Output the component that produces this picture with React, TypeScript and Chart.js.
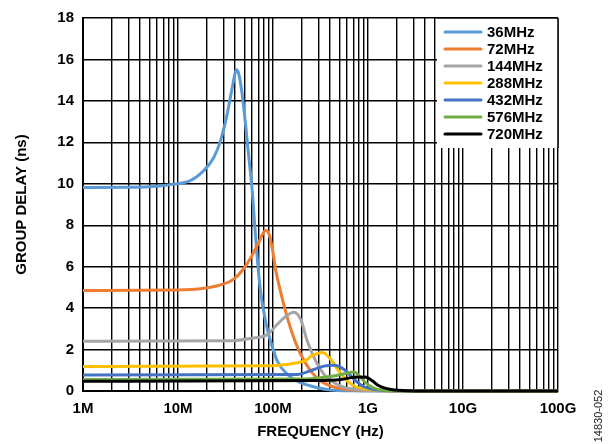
import { useEffect, useRef } from "react";
import { Chart, registerables } from "chart.js";

Chart.register(...registerables);

// ---- Data (frequency in Hz, group delay in ns) ----
const seriesLabels = ["36MHz", "72MHz", "144MHz", "288MHz", "432MHz", "576MHz", "720MHz"];
const seriesColors = ["#5B9BD5", "#ED7D31", "#A5A5A5", "#FFC000", "#4472C4", "#70AD47", "#000000"];

const freq36 = [1e6, 3e6, 6e6, 8.3e6, 13.5e6, 18.6e6, 23.8e6, 28e6, 32.9e6, 37.2e6, 41.3e6, 43.6e6, 47.4e6, 51.4e6, 55.7e6, 60.4e6, 64e6, 68.3e6, 74e6, 83.5e6, 94.4e6, 111e6, 142e6, 196e6, 294e6, 406e6, 700e6, 1.2e9, 1e11];
const gd36 = [9.82, 9.83, 9.88, 9.96, 10.15, 10.63, 11.27, 12.07, 13.35, 14.63, 15.5, 15.3, 14.3, 12.87, 11.27, 9.67, 8.1, 6.4, 4.8, 3.36, 2.4, 1.44, 0.8, 0.4, 0.16, 0.05, 0.01, 0, 0];

const freq72 = [1e6, 10e6, 17.2e6, 28e6, 38.6e6, 49.3e6, 60.4e6, 71e6, 83.5e6, 90.5e6, 98.4e6, 106e6, 120e6, 142e6, 166e6, 196e6, 250e6, 318e6, 406e6, 600e6, 1e9, 2e9, 1e11];
const gd72 = [4.85, 4.87, 4.93, 5.12, 5.4, 5.91, 6.55, 7.19, 7.75, 7.59, 6.87, 5.91, 4.8, 3.52, 2.56, 1.76, 0.96, 0.48, 0.24, 0.07, 0.02, 0, 0];

const freq144 = [1e6, 38.6e6, 62.9e6, 87e6, 111e6, 136e6, 166e6, 196e6, 230e6, 282e6, 344e6, 380e6, 517e6, 700e6, 1.2e9, 2e9, 1e11];
const gd144 = [2.4, 2.43, 2.56, 2.72, 3.22, 3.6, 3.8, 3.44, 2.4, 1.44, 0.8, 0.6, 0.24, 0.08, 0.02, 0, 0];

const freq288 = [1e6, 100e6, 180e6, 230e6, 250e6, 282e6, 332e6, 406e6, 493e6, 609e6, 715e6, 1e9, 2e9, 3e9, 1e11];
const gd288 = [1.18, 1.22, 1.36, 1.52, 1.68, 1.78, 1.86, 1.52, 0.96, 0.48, 0.24, 0.08, 0.01, 0, 0];

const freq432 = [1e6, 180e6, 270e6, 344e6, 436e6, 561e6, 715e6, 877e6, 1.2e9, 2e9, 3e9, 1e11];
const gd432 = [0.77, 0.8, 1.04, 1.2, 1.24, 1.04, 0.56, 0.24, 0.06, 0.01, 0, 0];

const freq576 = [1e6, 200e6, 318e6, 436e6, 561e6, 715e6, 841e6, 990e6, 1.26e9, 2e9, 3e9, 1e11];
const gd576 = [0.55, 0.58, 0.64, 0.72, 0.83, 0.92, 0.64, 0.32, 0.08, 0.01, 0, 0];

const freq720 = [1e6, 300e6, 517e6, 715e6, 930e6, 1.12e9, 1.25e9, 1.45e9, 1.75e9, 2.6e9, 4e9, 1e11];
const gd720 = [0.47, 0.51, 0.56, 0.66, 0.68, 0.48, 0.3, 0.16, 0.07, 0.01, 0, 0];

const seriesFreqs = [freq36, freq72, freq144, freq288, freq432, freq576, freq720];
const seriesDelays = [gd36, gd72, gd144, gd288, gd432, gd576, gd720];

const xTickValues = [1e6, 1e7, 1e8, 1e9, 1e10, 1e11];
const xTickLabels = ["1M", "10M", "100M", "1G", "10G", "100G"];
const yTickMin = 0;
const yTickMax = 18;
const yTickStep = 2;
const sideNote = "14830-052";

const FONT = "'Liberation Sans', Arial, Helvetica, sans-serif";

export default function App() {
  const ref = useRef<HTMLCanvasElement>(null);

  useEffect(() => {
    document.body.style.margin = "0";
    const canvas = ref.current;
    if (!canvas) return;

    const gridValues: number[] = [];
    for (let d = 0; d < xTickValues.length - 1; d++) {
      for (let m = 1; m <= 9; m++) gridValues.push(m * xTickValues[d]);
    }
    gridValues.push(xTickValues[xTickValues.length - 1]);

    const datasets = seriesLabels.map((label, i) => ({
      label,
      data: seriesFreqs[i].map((f, j) => ({ x: f, y: seriesDelays[i][j] })),
      borderColor: seriesColors[i],
      backgroundColor: seriesColors[i],
      borderWidth: 3,
      pointRadius: 0,
      fill: false,
      cubicInterpolationMode: "monotone" as const,
      order: seriesLabels.length - 1 - i,
      clip: 5,
    }));

    const insideLegend = {
      id: "insideLegend",
      afterDraw(chart: any) {
        const { ctx, chartArea } = chart;
        const left = 437;
        const top = chartArea.top;
        const right = chartArea.right;
        const bottom = 148;
        ctx.save();
        ctx.fillStyle = "#ffffff";
        ctx.fillRect(left, top, right - left, bottom - top);
        ctx.strokeStyle = "#000";
        ctx.lineWidth = 1.5;
        ctx.beginPath();
        ctx.moveTo(left, top);
        ctx.lineTo(right, top);
        ctx.moveTo(right, top);
        ctx.lineTo(right, bottom);
        ctx.stroke();
        chart.data.datasets.forEach((ds: any, i: number) => {
          const y = 32 + i * 17;
          ctx.strokeStyle = ds.borderColor;
          ctx.lineWidth = 3;
          ctx.lineCap = "round";
          ctx.beginPath();
          ctx.moveTo(445, y);
          ctx.lineTo(481, y);
          ctx.stroke();
          ctx.fillStyle = "#000";
          ctx.font = `bold 15px ${FONT}`;
          ctx.textAlign = "left";
          ctx.textBaseline = "middle";
          ctx.fillText(ds.label, 487, y + 1);
        });
        // side note
        ctx.translate(599, 416);
        ctx.rotate(-Math.PI / 2);
        ctx.fillStyle = "#222";
        ctx.font = `11px ${FONT}`;
        ctx.textAlign = "center";
        ctx.textBaseline = "middle";
        ctx.fillText(sideNote, 0, 0);
        ctx.restore();
      },
    };

    const chart = new Chart(canvas, {
      type: "line",
      data: { datasets },
      options: {
        animation: false,
        responsive: false,
        devicePixelRatio: 1,
        parsing: true,
        layout: { padding: { top: 15, right: 50, left: 0, bottom: 0 } },
        plugins: { legend: { display: false }, tooltip: { enabled: false } },
        scales: {
          x: {
            type: "logarithmic",
            min: xTickValues[0],
            max: xTickValues[xTickValues.length - 1],
            afterBuildTicks: (s: any) => {
              s.ticks = gridValues.map((v) => ({ value: v }));
            },
            afterFit: (s: any) => {
              s.height = 53;
            },
            ticks: {
              autoSkip: false,
              maxRotation: 0,
              minRotation: 0,
              padding: 9,
              color: "#000",
              font: { family: FONT, size: 15, weight: "bold" },
              callback: (value: any) => {
                const v = Number(value);
                const idx = xTickValues.findIndex((t) => Math.abs(t - v) / t < 1e-6);
                return idx >= 0 ? xTickLabels[idx] : "";
              },
            },
            grid: { color: "#000", lineWidth: 1.4, drawTicks: false },
            border: { color: "#000", width: 2 },
            title: {
              display: true,
              text: "FREQUENCY (Hz)",
              color: "#000",
              font: { family: FONT, size: 15, weight: "bold" },
              padding: { top: 0, bottom: 3 },
            },
          },
          y: {
            type: "linear",
            min: yTickMin,
            max: yTickMax,
            afterFit: (s: any) => {
              s.width = 83;
            },
            ticks: {
              stepSize: yTickStep,
              padding: 9,
              color: "#000",
              font: { family: FONT, size: 15, weight: "bold" },
            },
            grid: { color: "#000", lineWidth: 1.4, drawTicks: false },
            border: { color: "#000", width: 2 },
            title: {
              display: true,
              text: "GROUP DELAY (ns)",
              color: "#000",
              font: { family: FONT, size: 15, weight: "bold" },
              padding: { top: 13, bottom: 0 },
            },
          },
        },
      },
      plugins: [insideLegend],
    });

    return () => chart.destroy();
  }, []);

  return (
    <div style={{ position: "absolute", left: 0, top: 0, width: 608, height: 444, background: "#fff" }}>
      <canvas ref={ref} width={608} height={444} />
    </div>
  );
}
